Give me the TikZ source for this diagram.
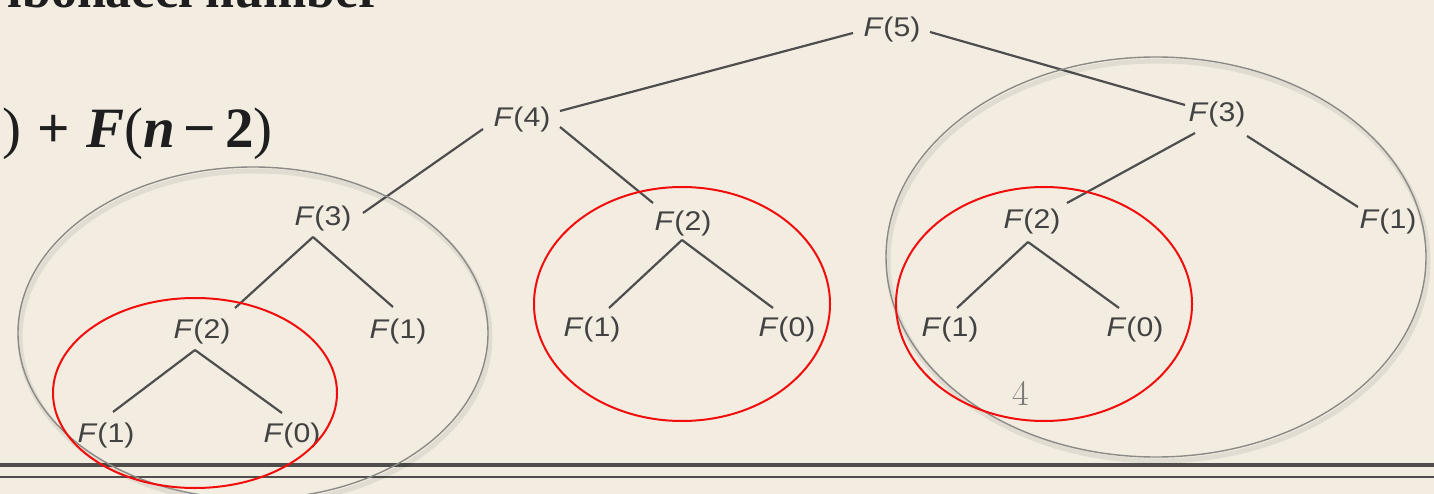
\documentclass[tikz,border=0pt]{standalone}
\usepackage{fontspec}
\usetikzlibrary{calc}
\newfontfamily\treefont{Liberation Sans}[FakeStretch=1.12]
\newfontfamily\slidefont{Liberation Serif}
\definecolor{paper}{HTML}{F3EDE1}
\definecolor{treeink}{HTML}{424242}
\definecolor{edgeink}{HTML}{4E4E4E}
\definecolor{ringgray}{HTML}{8C8A86}
\definecolor{callred}{HTML}{F20D0D}
\definecolor{ruleink}{HTML}{504E4C}
\definecolor{numgray}{HTML}{7A7876}
\definecolor{slideink}{HTML}{1E1E1E}
\newcommand{\opgap}{\hspace{16pt}}
\newcommand{\minusgap}{\hspace{9pt}}
\begin{document}
\begin{tikzpicture}[x=1pt,y=-1pt,
  fnode/.style={inner sep=0pt, text=treeink, font=\treefont\fontsize{27}{30}\selectfont},
  branch/.style={draw=edgeink, line width=2.2pt},
  redring/.style={draw=callred, line width=2pt},
  grayring/.style={draw=ringgray, line width=1.4pt},
  ringshadow/.style={draw=black, opacity=0.07, line width=5pt},
  slidetext/.style={text=slideink, inner sep=0pt}]
  % page area
  \useasboundingbox (0,0) rectangle (1434,494);
  \clip (0,0) rectangle (1434,494);
  \fill[paper] (0,0) rectangle (1434,494);

  % slide title and recurrence (left part runs off the page)
  \node[slidetext, anchor=base east, font=\slidefont\bfseries\fontsize{52}{56}\selectfont]
    (title) at (382,8) {Fibonacci number};
  \node[slidetext, anchor=base east, font=\slidefont\fontsize{57}{60}\selectfont]
    (rec) at (273,148) {\textbf{\textit{F}}(\textbf{\textit{n}})\opgap\textbf{=}\opgap\textbf{\textit{F}}(\textbf{\textit{n}}\minusgap\textbf{−}\minusgap\textbf{1})\opgap\textbf{+}\opgap\textbf{\textit{F}}(\textbf{\textit{n}}\minusgap\textbf{−}\minusgap\textbf{2})};

  % footer rules
  \coordinate (ruleL) at (0,465);
  \coordinate (ruleR) at (1434,465);
  \draw[ruleink, line width=4.5pt] (ruleL) -- (ruleR);
  \draw[ruleink, line width=2.6pt] ($(ruleL)+(0,12)$) -- ($(ruleR)+(0,12)$);

  % call tree
  \node[fnode] (F5)  at (892,30)  {\textit{F}(5)};
  \node[fnode] (F4)  at (522,120) {\textit{F}(4)};
  \node[fnode] (F3r) at (1217,115) {\textit{F}(3)};
  \node[fnode] (F3l) at (323,219) {\textit{F}(3)};
  \node[fnode] (F2m) at (683,224) {\textit{F}(2)};
  \node[fnode] (F2r) at (1032,222) {\textit{F}(2)};
  \node[fnode] (F1rr) at (1388,222) {\textit{F}(1)};
  \node[fnode] (F2l) at (202,332) {\textit{F}(2)};
  \node[fnode] (F1l) at (398,332) {\textit{F}(1)};
  \node[fnode] (F1m) at (592,330) {\textit{F}(1)};
  \node[fnode] (F0m) at (787,330) {\textit{F}(0)};
  \node[fnode] (F1r) at (950,330) {\textit{F}(1)};
  \node[fnode] (F0r) at (1135,330) {\textit{F}(0)};
  \node[fnode] (F1b) at (106,436) {\textit{F}(1)};
  \node[fnode] (F0b) at (292,436) {\textit{F}(0)};

  \draw[branch] ($(F5)+(-39,3)$)  -- ($(F4)+(38,-9)$);
  \draw[branch] ($(F5)+(38,2)$)   -- ($(F3r)+(-32,-10)$);
  \draw[branch] ($(F4)+(-39,9)$)  -- ($(F3l)+(40,-6)$);
  \draw[branch] ($(F4)+(38,7)$)   -- ($(F2m)+(-30,-21)$);
  \draw[branch] ($(F3r)+(-22,18)$) -- ($(F2r)+(35,-19)$);
  \draw[branch] ($(F3r)+(30,21)$) -- ($(F1rr)+(-30,-15)$);
  \draw[branch] ($(F3l)+(-10,18)$) -- ($(F2l)+(33,-24)$);
  \draw[branch] ($(F3l)+(-10,18)$) -- ($(F1l)+(-5,-25)$);
  \draw[branch] ($(F2l)+(-7,18)$) -- ($(F1b)+(7,-24)$);
  \draw[branch] ($(F2l)+(-7,18)$) -- ($(F0b)+(-10,-23)$);
  \draw[branch] ($(F2m)+(-1,16)$) -- ($(F1m)+(17,-22)$);
  \draw[branch] ($(F2m)+(-1,16)$) -- ($(F0m)+(-14,-22)$);
  \draw[branch] ($(F2r)+(-4,20)$) -- ($(F1r)+(7,-22)$);
  \draw[branch] ($(F2r)+(-4,20)$) -- ($(F0r)+(-16,-22)$);

  % repeated subproblems
  \coordinate (ringL) at (253,333);
  \coordinate (ringR) at (1156,257);
  \draw[ringshadow] ($(ringL)+(2,4)$) ellipse [x radius=235pt, y radius=166pt];
  \draw[ringshadow] ($(ringR)+(2,4)$) ellipse [x radius=270pt, y radius=200pt];
  \draw[grayring] (ringL) ellipse [x radius=235pt, y radius=166pt];
  \draw[grayring] (ringR) ellipse [x radius=270pt, y radius=200pt];

  \draw[redring] ($(F2l)+(-7,61)$) ellipse [x radius=142pt, y radius=95pt];
  \draw[redring] ($(F2m)+(-1,80)$) ellipse [x radius=148pt, y radius=117pt];
  \draw[redring] ($(F2r)+(12,82)$) ellipse [x radius=148pt, y radius=117pt];

  % page number
  \node[text=numgray, inner sep=0pt, font=\fontsize{36}{40}\selectfont] (pg) at (1021,393) {4};
\end{tikzpicture}
\end{document}
